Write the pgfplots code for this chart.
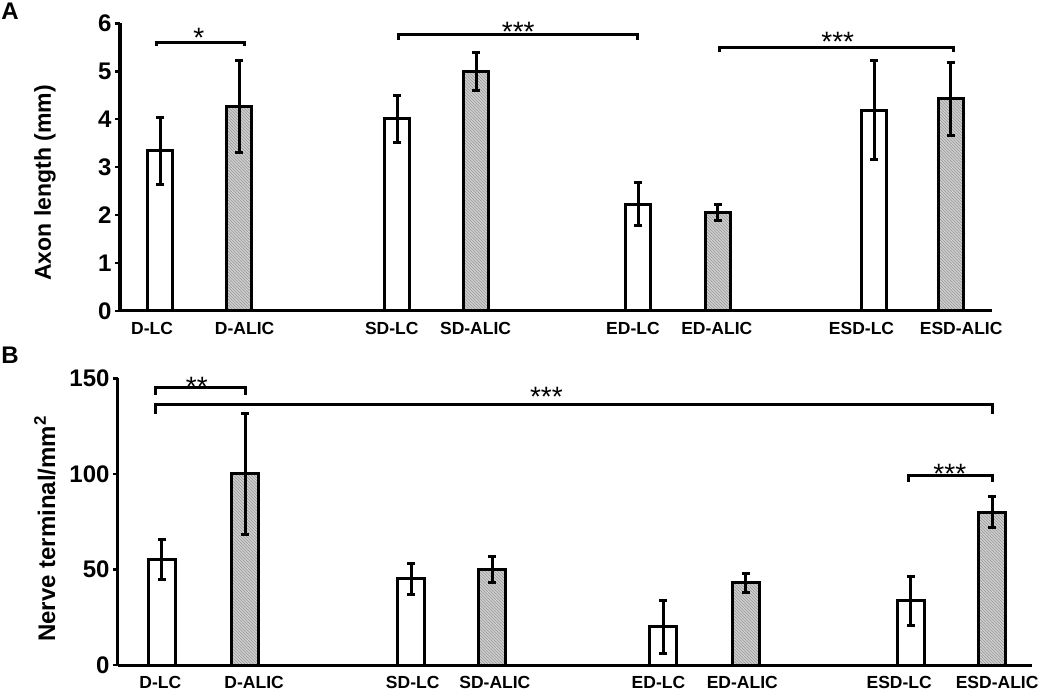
\documentclass[border=0pt]{standalone}
\usepackage{pgfplots}
\usepackage{pgfplotstable}
\pgfplotsset{compat=1.18}
\usepackage{fontspec}
\setmainfont{Liberation Sans}
\usetikzlibrary{patterns}

% top panel: axon length (mm)
\pgfplotstableread{
x y e
0 3.34 0.70
3 4.01 0.49
6.05 2.23 0.45
9.03 4.19 1.03
}\topLC
\pgfplotstableread{
x y e
1 4.27 0.96
4 5.00 0.40
7.05 2.05 0.17
10 4.43 0.76
}\topALIC
% bottom panel: nerve terminal / mm^2
\pgfplotstableread{
x y e
0 55 10.5
3 45 8
6.04 20 14
9.02 33.5 13
}\botLC
\pgfplotstableread{
x y e
1 100 31.5
3.98 50 7
7.03 43 5
10 80 8
}\botALIC

\tikzset{
  lcbar/.style={draw=black, line width=3pt, fill=white},
  alicbar/.style={draw=black, line width=3pt, fill=gray!38,
     postaction={pattern=north west lines, pattern color=gray!80}},
  bracket/.style={line width=3pt, black},
  stars/.style={font=\fontsize{28}{28}\selectfont, inner sep=0pt, anchor=north},
}
\pgfplotsset{
  myaxis/.style={
    scale only axis,
    axis lines*=left,
    axis line style={line width=3pt,-},
    ymin=0,
    tick align=outside,
    major tick length=5pt,
    ytick style={line width=2.5pt,black},
    xtick style={draw=none},
    yticklabel style={font=\bfseries\fontsize{24}{24}\selectfont},
    xticklabel style={font=\bfseries\fontsize{17.5}{17.5}\selectfont, yshift=-3pt},
    /pgf/number format/assume math mode=true,
    clip=false,
    ybar, bar shift=0pt,
    error bars/y dir=both, error bars/y explicit,
    error bars/error bar style={line width=3pt,black},
    error bars/error mark options={rotate=90,black,line width=3pt,mark size=4pt},
  },
}

\begin{document}
\begin{tikzpicture}
\path[use as bounding box] (0pt,0pt) rectangle (1050pt,-692pt);
\node[font=\bfseries\fontsize{24}{24}\selectfont, inner sep=0pt] at (10pt,-11pt) {A};
\node[font=\bfseries\fontsize{24}{24}\selectfont, inner sep=0pt] at (10pt,-355pt) {B};

% ---------- Panel A ----------
\begin{axis}[myaxis,
  at={(120pt,-311pt)}, anchor=south west,
  width=872pt, height=287.7pt,
  xmin=-0.506, xmax=10.52,
  ymax=6,
  ytick={0,1,2,3,4,5,6},
  xtick={-0.10,1.07,2.93,3.99,5.98,7.04,8.87,10.13},
  xticklabels={D-LC,D-ALIC,SD-LC,SD-ALIC,ED-LC,ED-ALIC,ESD-LC,ESD-ALIC},
  bar width=25pt,
  ylabel={Axon length (mm)},
  every axis y label/.style={at={(axis description cs:-0.086,0.445)}, rotate=90, anchor=center,
     font=\bfseries\fontsize{23}{23}\selectfont},
]
\addplot[lcbar] table[x=x,y=y,y error=e]{\topLC};
\addplot[alicbar] table[x=x,y=y,y error=e]{\topALIC};
\draw[bracket] (axis cs:-0.04,5.53) -- (axis cs:-0.04,5.6) -- (axis cs:1.07,5.6) -- (axis cs:1.07,5.53);
\node[stars] at (axis cs:0.49,5.9) {*};
\draw[bracket] (axis cs:3.01,5.65) -- (axis cs:3.01,5.76) -- (axis cs:6.04,5.76) -- (axis cs:6.04,5.65);
\node[stars] at (axis cs:4.53,6.02) {***};
\draw[bracket] (axis cs:7.07,5.41) -- (axis cs:7.07,5.49) -- (axis cs:10.03,5.49) -- (axis cs:10.03,5.41);
\node[stars] at (axis cs:8.57,5.81) {***};
\end{axis}

% ---------- Panel B ----------
\begin{axis}[myaxis,
  at={(118pt,-665pt)}, anchor=south west,
  width=914pt, height=286.7pt,
  xmin=-0.53, xmax=10.48,
  ymax=150,
  ytick={0,50,100,150},
  xtick={-0.02,1.11,3.02,4.01,5.98,6.99,8.88,10.06},
  xticklabels={D-LC,D-ALIC,SD-LC,SD-ALIC,ED-LC,ED-ALIC,ESD-LC,ESD-ALIC},
  bar width=27pt,
  ylabel={Nerve terminal/mm\textsuperscript{2}},
  every axis y label/.style={at={(axis description cs:-0.080,0.475)}, rotate=90, anchor=center,
     font=\bfseries\fontsize{24}{24}\selectfont},
]
\addplot[lcbar] table[x=x,y=y,y error=e]{\botLC};
\addplot[alicbar] table[x=x,y=y,y error=e]{\botALIC};
\draw[bracket] (axis cs:-0.08,141.3) -- (axis cs:-0.08,145.1) -- (axis cs:1.0,145.1) -- (axis cs:1.0,141.3);
\node[stars] at (axis cs:0.42,150.9) {**};
\draw[bracket] (axis cs:-0.08,131.2) -- (axis cs:-0.08,136.4) -- (axis cs:10.01,136.4) -- (axis cs:10.01,131.2);
\node[stars] at (axis cs:4.63,145.6) {***};
\draw[bracket] (axis cs:8.99,95.9) -- (axis cs:8.99,98.9) -- (axis cs:10.01,98.9) -- (axis cs:10.01,95.9);
\node[stars] at (axis cs:9.49,105) {***};
\end{axis}
\end{tikzpicture}
\end{document}
